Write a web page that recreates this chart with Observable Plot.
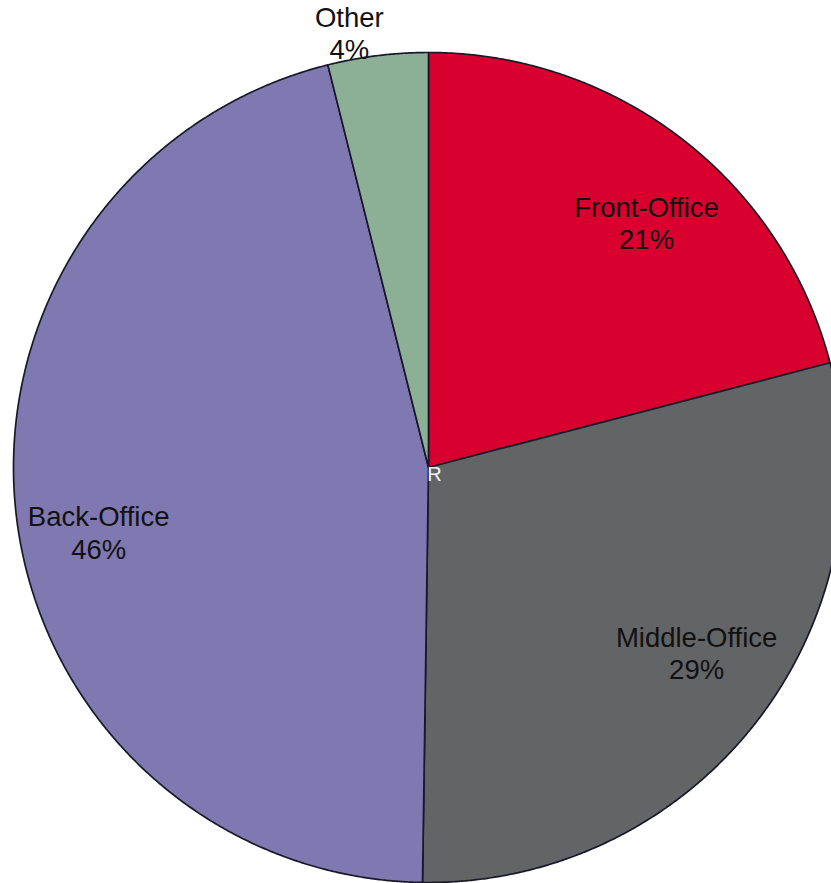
<!DOCTYPE html>
<html>
<head>
<meta charset="utf-8">
<script src="https://cdn.jsdelivr.net/npm/d3@7"></script>
<script src="https://cdn.jsdelivr.net/npm/@observablehq/plot@0.6"></script>
<style>
  html, body { margin: 0; padding: 0; background: #fff; overflow: hidden; }
  #chart svg { display: block; overflow: hidden; }
</style>
</head>
<body>
<div id="chart"></div>
<script>
// Data (clockwise from 12 o'clock)
const categories = ["Front-Office", "Middle-Office", "Back-Office", "Other"];
const shares = [20.94, 29.29, 45.87, 3.90];
const colors = ["#D8002E", "#636466", "#8079B1", "#8BB096"];
const centerMark = "R";

// Geometry helpers
const W = 831, H = 883, CX = 428, CY = 467, R = 415;
const pie = d3.pie().sort(null).value(d => d.value).startAngle(0).endAngle(2 * Math.PI);
const arcs = pie(categories.map((name, i) => ({name, value: shares[i]})));

// Polygon points for each slice, in unit-circle data coordinates
const slicePts = [];
for (const a of arcs) {
  const name = a.data.name;
  slicePts.push({name, x: 0, y: 0});
  const n = Math.max(2, Math.ceil((a.endAngle - a.startAngle) / (Math.PI / 720)));
  for (let k = 0; k <= n; k++) {
    const t = a.startAngle + (a.endAngle - a.startAngle) * k / n;
    slicePts.push({name, x: Math.sin(t), y: Math.cos(t)});
  }
  slicePts.push({name, x: 0, y: 0});
}

// Labels at slice mid-angles
const labelRadius = {"Front-Office": 0.79, "Middle-Office": 0.785, "Back-Office": 0.81, "Other": 1.065};
const labelAngleShift = {"Front-Office": 4, "Middle-Office": -3.5, "Back-Office": -4.5, "Other": -3.3};
const labels = arcs.map(a => {
  const name = a.data.name;
  const mid = (a.startAngle + a.endAngle) / 2 + labelAngleShift[name] * Math.PI / 180;
  const r = labelRadius[name];
  return {name, x: r * Math.sin(mid), y: r * Math.cos(mid), text: `${name}\n${Math.round(a.data.value)}%`};
});

const chart = Plot.plot({
  width: W,
  height: H,
  margin: 0,
  style: {background: "#fff", overflow: "hidden"},
  x: {domain: [-1, 1], range: [CX - R, CX + R], axis: null},
  y: {domain: [-1, 1], range: [CY + R, CY - R], axis: null},
  color: {domain: categories, range: colors},
  marks: [
    Plot.line(slicePts, {
      x: "x", y: "y", z: "name",
      fill: "name",
      stroke: "#18182a",
      strokeWidth: 1.7,
      strokeLinejoin: "round",
      curve: "linear"
    }),
    Plot.text(labels, {
      x: "x", y: "y", text: "text",
      fontSize: 27.5,
      lineHeight: 1.17,
      fill: "#111",
      fontFamily: "Liberation Sans, Arial, sans-serif"
    }),
    Plot.text([{x: 0, y: 0, t: centerMark}], {
      x: "x", y: "y", text: "t",
      dx: 6, dy: 7,
      fontSize: 20,
      fill: "#f4f4f4",
      fontFamily: "Liberation Sans, Arial, sans-serif"
    })
  ]
});
document.getElementById("chart").appendChild(chart);
</script>
</body>
</html>
